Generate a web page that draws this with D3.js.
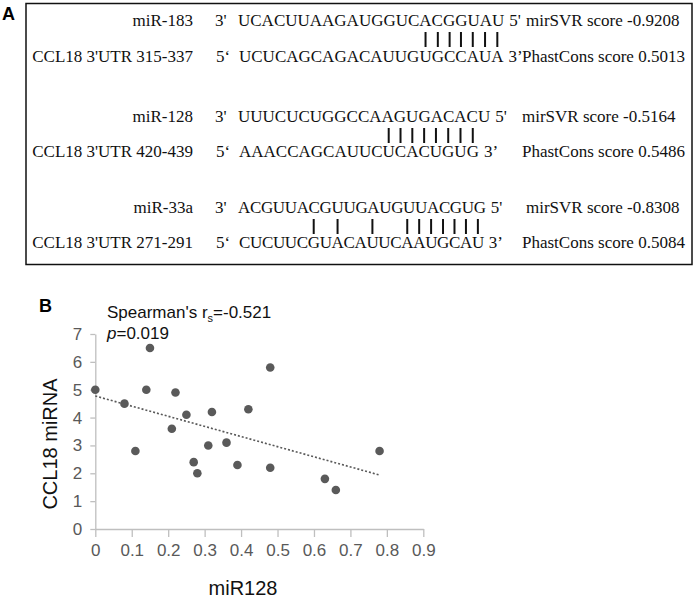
<!DOCTYPE html>
<html>
<head>
<meta charset="utf-8">
<script src="https://cdn.jsdelivr.net/npm/d3@7"></script>
<style>
  body { margin: 0; background: #fff; }
  svg { display: block; }
</style>
</head>
<body>
<script>

// panel A: miRNA / CCL18 3'UTR pairing
var mirNames = ["miR-183", "miR-128", "miR-33a"];
var utrNames = ["CCL18 3'UTR 315-337", "CCL18 3'UTR 420-439", "CCL18 3'UTR 271-291"];
var mirSeqs = ["UCACUUAAGAUGGUCACGGUAU", "UUUCUCUGGCCAAGUGACACU", "ACGUUACGUUGAUGUUACGUG"];
var utrSeqs = ["UCUCAGCAGACAUUGUGCCAUA", "AAACCAGCAUUCUCACUGUG", "CUCUUCGUACAUUCAAUGCAU"];
var pairIdx = [
    [15, 16, 17, 18, 19, 20, 21],
    [12, 13, 14, 15, 16, 17, 18, 19],
    [6, 8, 11, 14, 15, 16, 17, 18, 19, 20]
];
var svrScores = ["-0.9208", "-0.5164", "-0.8308"];
var phastScores = ["0.5013", "0.5486", "0.5084"];

// panel B: scatter
var mir128 = [0, 0.08, 0.15, 0.14, 0.22, 0.25, 0.32, 0.42, 0.48, 0.21,
              0.11, 0.27, 0.28, 0.31, 0.36, 0.39, 0.48, 0.63, 0.66, 0.78];
var ccl18 = [5.0, 4.5, 6.5, 5.0, 4.9, 4.1, 4.2, 4.3, 5.8, 3.6,
             2.8, 2.4, 2.0, 3.0, 3.1, 2.3, 2.2, 1.8, 1.4, 2.8];
var xTicks = [0, 0.1, 0.2, 0.3, 0.4, 0.5, 0.6, 0.7, 0.8, 0.9];
var yTicks = [0, 1, 2, 3, 4, 5, 6, 7];

var width = 699, height = 599;
var serif = "'Liberation Serif', 'Times New Roman', serif",
    sans = "'Liberation Sans', Arial, sans-serif";

var svg = d3.select("body").append("svg")
    .attr("width", width)
    .attr("height", height);

// ---------- panel A ----------
var pa = svg.append("g");

pa.append("text")
    .attr("x", 2).attr("y", 20)
    .style("font-family", sans).style("font-weight", "bold").style("font-size", "18px")
    .text("A");

pa.append("rect")
    .attr("x", 26).attr("y", 3.5)
    .attr("width", 666).attr("height", 261)
    .attr("fill", "none")
    .attr("stroke", "#111")
    .attr("stroke-width", 1.5);

var mirY = [26, 122, 213],
    utrY = [62, 157, 248],
    svrX = [526, 522, 526],
    rowSpacing = [0, 0, -0.35];

var seqX = 238;

mirNames.forEach(function(name, i) {
    var row = pa.append("g")
        .style("font-family", serif)
        .style("font-size", "17px")
        .attr("fill", "#111");

    row.append("text").attr("x", 193).attr("y", mirY[i])
        .attr("text-anchor", "end").text(name);
    row.append("text").attr("x", 193).attr("y", utrY[i])
        .attr("text-anchor", "end").text(utrNames[i]);

    row.append("text").attr("x", 215).attr("y", mirY[i]).text("3'");
    row.append("text").attr("x", 216).attr("y", utrY[i]).text("5\u2018");

    var mirText = row.append("text").attr("x", seqX).attr("y", mirY[i])
        .style("letter-spacing", rowSpacing[i] + "px").text(mirSeqs[i]);
    var utrText = row.append("text").attr("x", seqX + 1).attr("y", utrY[i])
        .style("letter-spacing", rowSpacing[i] + "px").text(utrSeqs[i]);

    var mirEnd = seqX + mirText.node().getComputedTextLength(),
        utrEnd = seqX + 1 + utrText.node().getComputedTextLength();
    row.append("text").attr("x", mirEnd + 5).attr("y", mirY[i]).text("5'");
    row.append("text").attr("x", utrEnd + 5).attr("y", utrY[i]).text("3\u2019");

    row.append("text").attr("x", svrX[i]).attr("y", mirY[i])
        .text("mirSVR score " + svrScores[i]);
    row.append("text").attr("x", 522).attr("y", utrY[i])
        .text("PhastCons score " + phastScores[i]);

    // pairing bars over the target nucleotides
    var node = utrText.node();
    function barX(d) { var e = node.getExtentOfChar(d); return e.x + e.width / 2; }
    row.selectAll("line.pair")
        .data(pairIdx[i])
        .enter().append("line")
        .attr("class", "pair")
        .attr("x1", barX)
        .attr("x2", barX)
        .attr("y1", mirY[i] + 6)
        .attr("y2", mirY[i] + 21)
        .attr("stroke", "#111")
        .attr("stroke-width", 2);
});

// ---------- panel B ----------
var pb = svg.append("g");

pb.append("text")
    .attr("x", 39).attr("y", 312)
    .style("font-family", sans).style("font-weight", "bold").style("font-size", "18px")
    .text("B");

var x = d3.scaleLinear().domain([0, 0.9]).range([95.3, 423.3]);
var y = d3.scaleLinear().domain([0, 7]).range([529, 334]);

var axisGrey = "#bfbfbf", labelGrey = "#595959";

var yAxis = pb.append("g")
    .attr("transform", "translate(" + x(0) + ",0)")
    .call(d3.axisLeft(y).tickValues(yTicks).tickSize(5).tickSizeOuter(0).tickPadding(8)
        .tickFormat(d3.format("d")));

var xAxis = pb.append("g")
    .attr("transform", "translate(0," + y(0) + ")")
    .call(d3.axisBottom(x).tickValues(xTicks).tickSize(8).tickSizeOuter(0).tickPadding(7)
        .tickFormat(function(d) { return d === 0 ? "0" : d3.format(".1f")(d); }));

[xAxis, yAxis].forEach(function(a) {
    a.select(".domain").attr("stroke", axisGrey).attr("stroke-width", 1.3);
    a.selectAll(".tick line").attr("stroke", axisGrey).attr("stroke-width", 1.3);
    a.selectAll(".tick text")
        .attr("fill", labelGrey)
        .style("font-family", sans)
        .style("font-size", "17px");
});

// least-squares trend line
var mx = d3.mean(mir128), my = d3.mean(ccl18);
var sxy = d3.sum(mir128, function(d, i) { return (d - mx) * (ccl18[i] - my); }),
    sxx = d3.sum(mir128, function(d) { return (d - mx) * (d - mx); });
var slope = sxy / sxx, intercept = my - slope * mx;
var xExt = d3.extent(mir128);

pb.append("line")
    .attr("x1", x(xExt[0])).attr("y1", y(intercept + slope * xExt[0]))
    .attr("x2", x(xExt[1])).attr("y2", y(intercept + slope * xExt[1]))
    .attr("stroke", "#595959")
    .attr("stroke-width", 1.6)
    .attr("stroke-dasharray", "2,2");

pb.selectAll("circle.pt")
    .data(mir128)
    .enter().append("circle")
    .attr("class", "pt")
    .attr("cx", function(d) { return x(d); })
    .attr("cy", function(d, i) { return y(ccl18[i]); })
    .attr("r", 4.3)
    .attr("fill", "#5a5a5a");

// correlation annotation
var ann = pb.append("text")
    .attr("x", 107).attr("y", 318)
    .style("font-family", sans).style("font-size", "17px")
    .attr("fill", "#111");
ann.append("tspan").text("Spearman's r");
ann.append("tspan").attr("dy", 4).style("font-size", "11px").text("s");
ann.append("tspan").attr("dy", -4).text("=-0.521");

var pText = pb.append("text")
    .attr("x", 107).attr("y", 339)
    .style("font-family", sans).style("font-size", "17px")
    .attr("fill", "#111");
pText.append("tspan").style("font-style", "italic").text("p");
pText.append("tspan").text("=0.019");

// axis titles
pb.append("text")
    .attr("transform", "translate(57,444) rotate(-90)")
    .attr("text-anchor", "middle")
    .style("font-family", sans).style("font-size", "20px")
    .attr("fill", "#111")
    .text("CCL18 miRNA");

pb.append("text")
    .attr("x", 243).attr("y", 595)
    .attr("text-anchor", "middle")
    .style("font-family", sans).style("font-size", "20px")
    .attr("fill", "#111")
    .text("miR128");

</script>
</body>
</html>
